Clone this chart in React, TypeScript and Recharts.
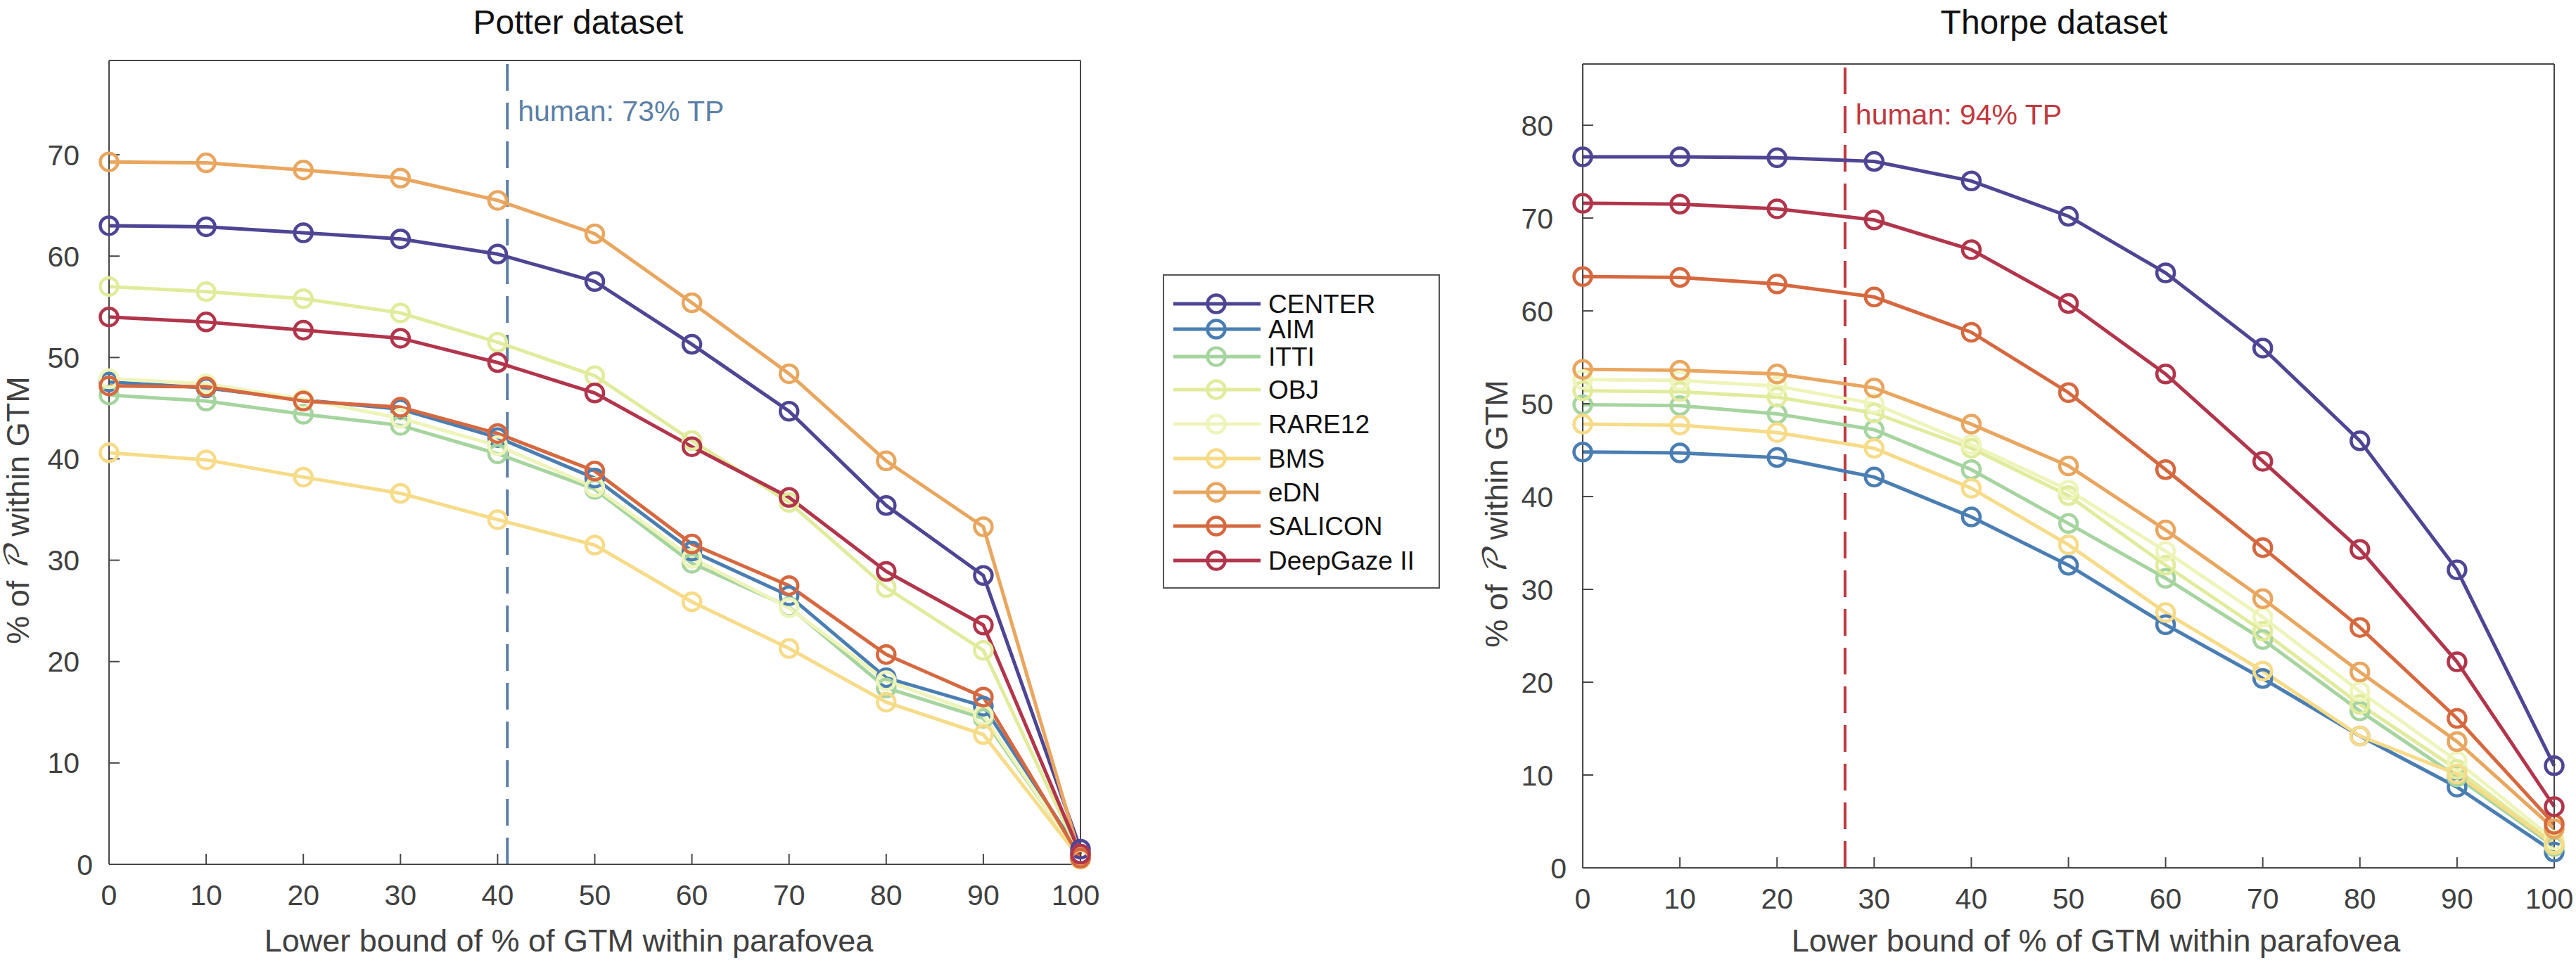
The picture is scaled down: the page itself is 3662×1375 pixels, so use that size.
import React from 'react';
import { LineChart, Line, XAxis, YAxis, ReferenceLine } from 'recharts';

const X_VALUES = [0, 10, 20, 30, 40, 50, 60, 70, 80, 90, 100];
const X_TICKS = [0, 10, 20, 30, 40, 50, 60, 70, 80, 90, 100];
const POTTER_Y_TICKS = [0, 10, 20, 30, 40, 50, 60, 70];
const THORPE_Y_TICKS = [0, 10, 20, 30, 40, 50, 60, 70, 80];

const MODELS = ['CENTER', 'AIM', 'ITTI', 'OBJ', 'RARE12', 'BMS', 'eDN', 'SALICON', 'DeepGaze II'];
const COLORS = ['#4e4594', '#4a7eb3', '#a6d49f', '#e1eb9c', '#eef4ba', '#f6db88', '#e9a65f', '#d6683f', '#b1354b'];

// Potter dataset
const potterCenter = [63.0, 62.9, 62.3, 61.7, 60.2, 57.5, 51.3, 44.7, 35.4, 28.5, 1.5];
const potterAim = [47.6, 47.0, 45.8, 44.9, 42.1, 38.1, 30.9, 26.5, 18.4, 15.6, 1.0];
const potterItti = [46.3, 45.7, 44.4, 43.3, 40.5, 37.0, 29.7, 25.4, 17.4, 14.4, 0.7];
const potterObj = [57.0, 56.5, 55.8, 54.4, 51.5, 48.2, 41.8, 35.7, 27.3, 21.1, 0.8];
const potterRare = [47.9, 47.4, 45.9, 44.0, 41.3, 37.2, 30.2, 25.3, 18.1, 14.7, 0.6];
const potterBms = [40.6, 39.9, 38.2, 36.6, 34.0, 31.5, 25.9, 21.3, 16.0, 12.8, 0.5];
const potterEdn = [69.3, 69.2, 68.5, 67.7, 65.5, 62.2, 55.4, 48.4, 39.8, 33.3, 0.7];
const potterSalicon = [47.2, 47.1, 45.7, 45.1, 42.5, 38.8, 31.6, 27.5, 20.7, 16.5, 0.6];
const potterDeepGaze = [54.0, 53.5, 52.7, 51.9, 49.5, 46.5, 41.2, 36.2, 28.9, 23.6, 1.0];

// Thorpe dataset
const thorpeCenter = [76.6, 76.6, 76.5, 76.1, 74.0, 70.2, 64.1, 56.0, 46.0, 32.1, 11.0];
const thorpeAim = [44.8, 44.7, 44.2, 42.1, 37.8, 32.6, 26.2, 20.4, 14.2, 8.7, 1.7];
const thorpeItti = [49.9, 49.8, 48.9, 47.2, 42.9, 37.1, 31.2, 24.6, 16.9, 9.8, 2.3];
const thorpeObj = [51.4, 51.3, 50.7, 49.0, 45.2, 40.1, 32.6, 25.5, 17.6, 10.6, 2.6];
const thorpeRare = [52.6, 52.5, 51.9, 50.0, 45.6, 40.7, 34.1, 27.0, 19.0, 11.5, 3.0];
const thorpeBms = [47.8, 47.7, 46.9, 45.2, 40.9, 34.8, 27.5, 21.2, 14.2, 10.1, 2.5];
const thorpeEdn = [53.7, 53.6, 53.2, 51.7, 47.8, 43.3, 36.4, 29.0, 21.1, 13.6, 4.2];
const thorpeSalicon = [63.7, 63.6, 62.9, 61.5, 57.7, 51.2, 42.9, 34.5, 25.9, 16.1, 4.7];
const thorpeDeepGaze = [71.6, 71.5, 71.0, 69.8, 66.6, 60.8, 53.2, 43.8, 34.3, 22.2, 6.6];

const POTTER_SERIES = [potterCenter, potterAim, potterItti, potterObj, potterRare, potterBms, potterEdn, potterSalicon, potterDeepGaze];
const THORPE_SERIES = [thorpeCenter, thorpeAim, thorpeItti, thorpeObj, thorpeRare, thorpeBms, thorpeEdn, thorpeSalicon, thorpeDeepGaze];

const POTTER_HUMAN_X = 41;
const THORPE_HUMAN_X = 27;

const buildRows = (series: number[][]) =>
  X_VALUES.map((x, i) => {
    const row: any = { x };
    MODELS.forEach((m, k) => { row[m] = series[k][i]; });
    return row;
  });

const potterData = buildRows(POTTER_SERIES);
const thorpeData = buildRows(THORPE_SERIES);

const FONT = '"Liberation Sans", Arial, Helvetica, sans-serif';
const AXIS = '#474747';
const TEXT = '#404040';

// legend row centres (layout only)
const LEGEND_ROWS = [432, 468, 507, 554, 603, 652, 700, 748, 797];

const yTitle = (dx: number, dy: number) => (props: any) => {
  const vb = props.viewBox;
  const cx = vb.x + dx;
  const cy = vb.y + vb.height / 2 + dy;
  return (
    <text x={cx} y={cy} transform={`rotate(-90 ${cx} ${cy})`} textAnchor="middle" dominantBaseline="central"
      fill={TEXT} fontSize={45} fontFamily={FONT}>
      % of <tspan fontFamily='"DejaVu Math TeX Gyre", "DejaVu Serif", serif' fontStyle="italic">𝒫</tspan> within GTM
    </text>
  );
};

const xTitle = (dx: number, baseline: number) => (props: any) => {
  const vb = props.viewBox;
  return (
    <text x={vb.x + vb.width / 2 + dx} y={vb.y + baseline} textAnchor="middle" fill={TEXT} fontSize={45} fontFamily={FONT}>
      Lower bound of % of GTM within parafovea
    </text>
  );
};

const humanLabel = (text: string, color: string) => (props: any) => {
  const vb = props.viewBox;
  return (
    <text x={vb.x + 15} y={vb.y + 86} fill={color} fontSize={41} fontFamily={FONT}>{text}</text>
  );
};

// MATLAB-like nudges: "100" sits a bit left of its tick, y "0" sits a bit right
const XTick = (props: any) => {
  const v = props.payload.value;
  return (
    <text x={props.x + (v === 100 ? -7 : 0)} y={props.y} dy="0.71em" textAnchor="middle" fill={TEXT} fontSize={41} fontFamily={FONT}>{v}</text>
  );
};

const YTick = (props: any) => {
  const v = props.payload.value;
  return (
    <text x={props.x + (v === 0 ? 19 : 0)} y={props.y} dy="0.355em" textAnchor="end" fill={TEXT} fontSize={41} fontFamily={FONT}>{v}</text>
  );
};

function Panel({ data, yMax, yTicks, humanX, humanText, humanColor, width, height, margin, yWidth, xHeight, xDx, xBase, yDx }: any) {
  const axisLine = { stroke: AXIS, strokeWidth: 2 };
  return (
    <LineChart width={width} height={height} data={data} margin={margin}>
      <XAxis dataKey="x" type="number" domain={[0, 100]} ticks={X_TICKS} interval={0}
        height={xHeight} tickSize={-15} tickMargin={44} axisLine={axisLine} tickLine={axisLine} tick={<XTick />}
        label={xTitle(xDx, xBase)} />
      <XAxis xAxisId="top" orientation="top" dataKey="x" type="number" domain={[0, 100]} ticks={X_TICKS} interval={0}
        height={1} tickSize={-15} axisLine={axisLine} tickLine={axisLine} tick={false} />
      <YAxis type="number" domain={[0, yMax]} ticks={yTicks} interval={0} width={yWidth}
        tickSize={-15} tickMargin={57} axisLine={axisLine} tickLine={axisLine} tick={<YTick />}
        label={yTitle(yDx, 68)} />
      <YAxis yAxisId="right" orientation="right" type="number" domain={[0, yMax]} ticks={yTicks} interval={0}
        width={1} tickSize={-15} axisLine={axisLine} tickLine={axisLine} tick={false} />
      <ReferenceLine x={humanX} stroke={humanColor} strokeWidth={4} strokeDasharray="38 17"
        label={humanLabel(humanText, humanColor)} />
      {MODELS.map((m, k) => (
        <Line key={m} dataKey={m} type="linear" stroke={COLORS[k]} strokeWidth={5}
          dot={{ r: 12.5, stroke: COLORS[k], strokeWidth: 4.5, fill: 'none' }}
          activeDot={false} isAnimationActive={false} />
      ))}
    </LineChart>
  );
}

export default function App() {
  return (
    <div style={{ position: 'absolute', left: 0, top: 0, width: 3662, height: 1375, background: '#fff', fontFamily: FONT }}>
      <div style={{ position: 'absolute', left: 0, top: 0 }}>
        <Panel data={potterData} yMax={79.3} yTicks={POTTER_Y_TICKS} humanX={POTTER_HUMAN_X}
          humanText="human: 73% TP" humanColor="#5b7fa6"
          width={1600} height={1375} margin={{ top: 85, right: 63, bottom: 0, left: 0 }}
          yWidth={155} xHeight={146} xDx={-37} xBase={124} yDx={25} />
      </div>
      <div style={{ position: 'absolute', left: 2050, top: 0 }}>
        <Panel data={thorpeData} yMax={86.6} yTicks={THORPE_Y_TICKS} humanX={THORPE_HUMAN_X}
          humanText="human: 94% TP" humanColor="#c0393f"
          width={1612} height={1375} margin={{ top: 90, right: 30, bottom: 0, left: 0 }}
          yWidth={200} xHeight={141} xDx={39} xBase={119} yDx={77} />
      </div>
      <svg width={3662} height={1375} style={{ position: 'absolute', left: 0, top: 0, pointerEvents: 'none' }}>
        <text x={822} y={48} textAnchor="middle" fill="#111" fontSize={48} fontFamily={FONT}>Potter dataset</text>
        <text x={2920} y={48} textAnchor="middle" fill="#111" fontSize={48} fontFamily={FONT}>Thorpe dataset</text>
        <rect x={1654} y={391} width={392} height={445} fill="#fff" stroke="#555" strokeWidth={2} />
        {MODELS.map((m, k) => (
          <g key={m}>
            <line x1={1668} x2={1792} y1={LEGEND_ROWS[k]} y2={LEGEND_ROWS[k]} stroke={COLORS[k]} strokeWidth={5} />
            <circle cx={1729} cy={LEGEND_ROWS[k]} r={12.5} fill="none" stroke={COLORS[k]} strokeWidth={4.5} />
            <text x={1803} y={LEGEND_ROWS[k] + 13} fill="#111" fontSize={37} fontFamily={FONT}>{m}</text>
          </g>
        ))}
      </svg>
    </div>
  );
}
